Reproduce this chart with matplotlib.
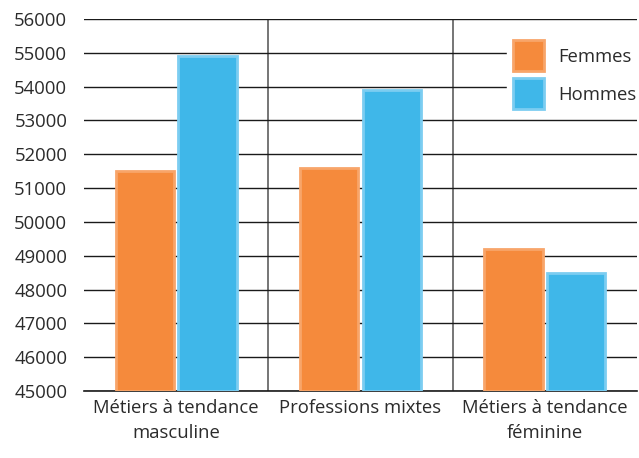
import matplotlib
matplotlib.use("Agg")
import matplotlib.pyplot as plt
import numpy as np
from matplotlib.patches import Patch

categories = ["Métiers à tendance\nmasculine", "Professions mixtes", "Métiers à tendance\nféminine"]
femmes = [51500, 51600, 49200]
hommes = [54900, 53900, 48500]
series_names = ["Femmes", "Hommes"]
yticks = list(range(45000, 56001, 1000))

plt.rcParams['font.family'] = ['Open Sans', 'DejaVu Sans']

fig = plt.figure(figsize=(6.39, 4.58), dpi=100)
ax = fig.add_axes([84/639, 1-391/458, (637-84)/639, (391-19)/458])

orange = "#F58A3C"
orange_edge = "#F8A56A"
blue = "#3FB7E9"
blue_edge = "#7CCDF1"
txt = "#2b2b2b"
fs = 13.3

x = np.arange(len(categories))
w = 0.315
off = 0.17
ax.bar(x - off, np.array(femmes) - 45000, w, bottom=45000, color=orange,
       edgecolor=orange_edge, linewidth=2.0, zorder=3)
ax.bar(x + off, np.array(hommes) - 45000, w, bottom=45000, color=blue,
       edgecolor=blue_edge, linewidth=2.0, zorder=3)

ax.set_xlim(-0.5, 2.5)
ax.set_ylim(45000, 56000)
ax.set_yticks(yticks)
ax.set_yticklabels([str(v) for v in yticks], fontsize=fs, color=txt)
ax.yaxis.grid(True, color="#1a1a1a", linewidth=1.0, zorder=0)
ax.tick_params(axis='y', length=0, pad=12)
ax.set_xticks(x)
ax.set_xticklabels(categories, fontsize=fs, color=txt, linespacing=1.45)
ax.tick_params(axis='x', length=0, pad=6)

for s in ["top", "right", "left"]:
    ax.spines[s].set_visible(False)
ax.spines["bottom"].set_color("#1a1a1a")
ax.spines["bottom"].set_linewidth(1.2)

for xs in [0.5, 1.5]:
    ax.axvline(xs, color="#6a6a6a", linewidth=1.3, zorder=1)

handles = [Patch(facecolor=orange, edgecolor=orange_edge, linewidth=2),
           Patch(facecolor=blue, edgecolor=blue_edge, linewidth=2)]
leg = ax.legend(handles, series_names, loc="upper left",
                bbox_to_anchor=(507/639, 1-34/458), bbox_transform=fig.transFigure,
                borderaxespad=0, frameon=True, fontsize=fs,
                handlelength=1.68, handleheight=2.2,
                handletextpad=0.75, labelspacing=0.38, borderpad=0.35)
leg.get_frame().set_facecolor("white")
leg.get_frame().set_edgecolor("white")
leg.get_frame().set_alpha(1)
leg.get_frame().set_boxstyle("square", pad=0)
for t in leg.get_texts():
    t.set_color(txt)

fig.savefig("out.png", dpi=100)
